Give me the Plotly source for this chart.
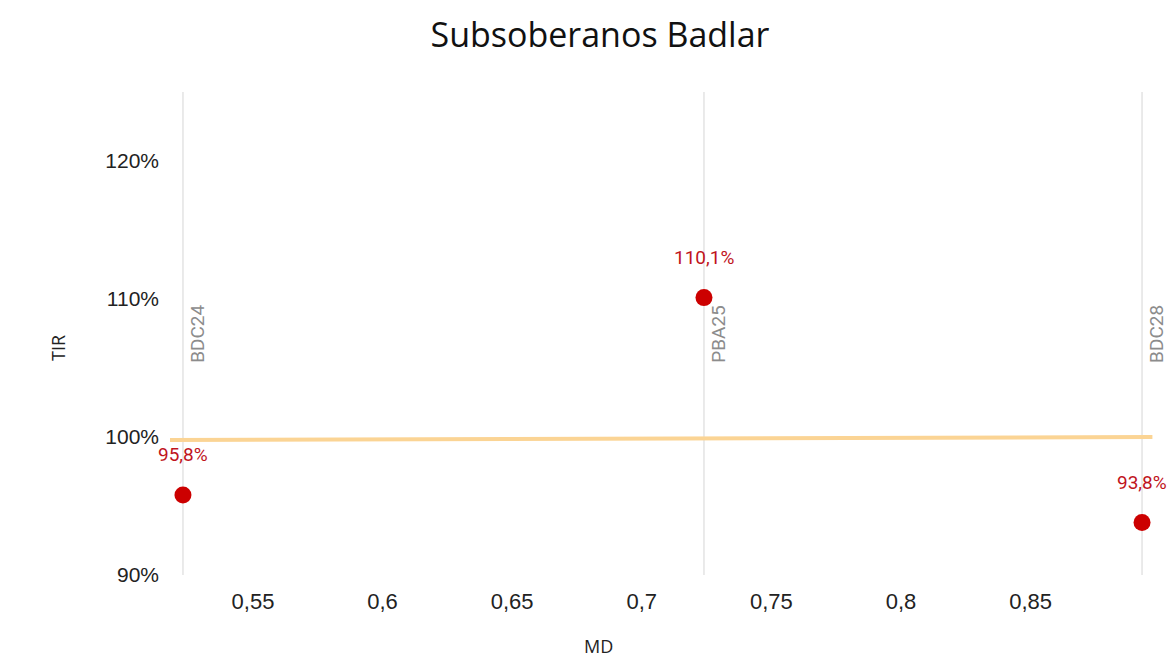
import plotly.graph_objects as go

bonds = ["BDC24", "PBA25", "BDC28"]
md = [0.523, 0.724, 0.893]
tir = [95.8, 110.1, 93.8]

trend_x = [0.518, 0.897]
trend_y = [99.78, 100.0]

x_ticks = [0.55, 0.6, 0.65, 0.7, 0.75, 0.8, 0.85]
x_labels = ["0,55", "0,6", "0,65", "0,7", "0,75", "0,8", "0,85"]
y_ticks = [90, 100, 110, 120]
y_labels = ["90%", "100%", "110%", "120%"]

# page body adds an 8px margin, so the figure is sized to fit the window without overflow
L, R, T, B = 162, 13, 84, 85
W, H = 1160, 652
pw, ph = W - L - R, H - T - B

fig = go.Figure()

for xv in md:
    fig.add_shape(type="line", x0=xv, x1=xv, y0=90, y1=125, xref="x", yref="y",
                  line=dict(color="#E3E3E3", width=1.5), layer="below")

fig.add_trace(go.Scatter(x=trend_x, y=trend_y, mode="lines",
                         line=dict(color="#FBD494", width=4), hoverinfo="skip",
                         showlegend=False))

fig.add_trace(go.Scatter(x=md, y=tir, mode="markers",
                         marker=dict(color="#CC0000", size=17),
                         showlegend=False))

for name, xv, yv in zip(bonds, md, tir):
    fig.add_annotation(x=xv, y=yv, xref="x", yref="y", text=f"{yv:.1f}%".replace(".", ","),
                       showarrow=False, yshift=40, xanchor="center", yanchor="middle",
                       font=dict(family="Roboto", size=19, color="#C0141C"))
    fig.add_annotation(x=xv, y=105.3, xref="x", yref="y", text=name, textangle=-90,
                       showarrow=False, xanchor="left", yanchor="bottom", xshift=3,
                       borderpad=0, height=20,
                       font=dict(family="Roboto", size=19, color="#8C8C8C"))

# axis titles (figure pixel positions converted to paper coordinates)
fig.add_annotation(x=(50 - L) / pw, y=(H - B - 340) / ph, xref="paper", yref="paper",
                   text="TIR", showarrow=False, textangle=-90,
                   xanchor="center", yanchor="middle",
                   font=dict(family="Open Sans", size=18, color="#222222"))
fig.add_annotation(x=(590 - L) / pw, y=(H - B - 638) / ph, xref="paper", yref="paper",
                   text="MD", showarrow=False, xanchor="center", yanchor="middle",
                   font=dict(family="Open Sans", size=18, color="#222222"))

fig.update_layout(
    width=W, height=H,
    margin=dict(l=L, r=R, t=T, b=B, autoexpand=False),
    paper_bgcolor="white", plot_bgcolor="white",
    separators=",.",
    title=dict(text="Subsoberanos Badlar", x=592 / W, xanchor="center", y=1 - 27 / H,
               yanchor="middle", font=dict(family="Open Sans", size=34, color="#111111")),
    xaxis=dict(range=[0.518, 0.898], tickvals=x_ticks, ticktext=x_labels, showgrid=False,
               zeroline=False, showline=False, ticks="", ticklabelstandoff=11,
               tickfont=dict(family="Liberation Sans", size=22, color="#222222")),
    yaxis=dict(range=[90, 125], tickvals=y_ticks, ticktext=y_labels, showgrid=False,
               zeroline=False, showline=False, ticks="", ticklabelstandoff=10,
               tickfont=dict(family="Liberation Sans", size=21, color="#222222")),
)

fig.write_html("out.html")
